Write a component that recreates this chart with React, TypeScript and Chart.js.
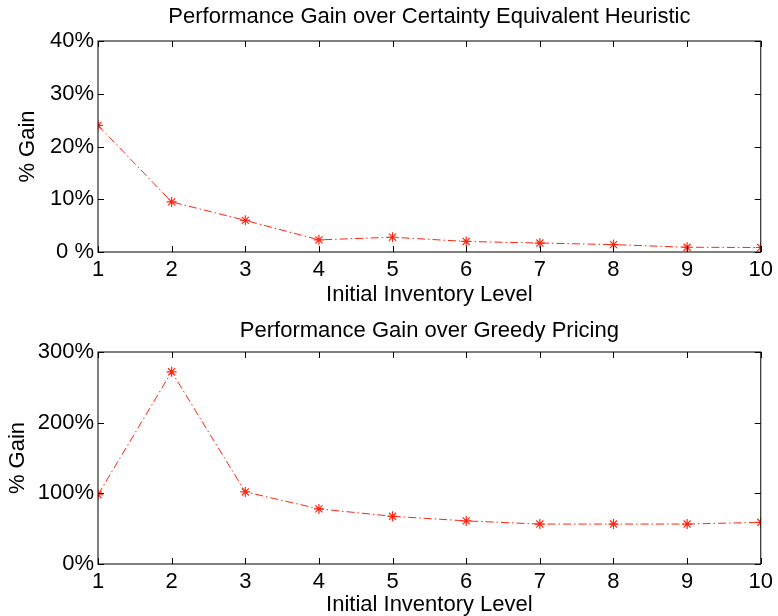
import React, { useEffect, useRef } from "react";
import { Chart, registerables } from "chart.js";

Chart.register(...registerables);

const inventoryLevels = [1, 2, 3, 4, 5, 6, 7, 8, 9, 10];
const gainVsCertainty = [24.0, 9.5, 6.0, 2.3, 2.8, 2.0, 1.7, 1.4, 0.9, 0.85];
const gainVsGreedy = [98, 272, 102, 78, 67.5, 61, 56.5, 56.5, 56.5, 59];
const topYTickLabels = ["0 %", "10%", "20%", "30%", "40%"];
const bottomYTickLabels = ["0%", "100%", "200%", "300%"];
const topTitle = "Performance Gain over Certainty Equivalent Heuristic";
const bottomTitle = "Performance Gain over Greedy Pricing";
const xAxisTitle = "Initial Inventory Level";
const yAxisTitle = "% Gain";

const FONT = "'Liberation Sans', Arial, Helvetica, sans-serif";
const RED = "rgb(255,38,18)";

const boxTicks = {
  id: "boxTicks",
  afterDraw(chart: any) {
    const { ctx, chartArea, scales } = chart;
    const { left, right, top, bottom } = chartArea;
    const x = scales.x;
    const y = scales.y;
    const L = 6;
    ctx.save();
    ctx.strokeStyle = "#000";
    ctx.lineWidth = 1;
    ctx.strokeRect(left, top, right - left, bottom - top);
    ctx.beginPath();
    x.ticks.forEach((t: any) => {
      const px = Math.round(x.getPixelForValue(t.value)) + 0.5;
      ctx.moveTo(px, bottom);
      ctx.lineTo(px, bottom - L);
      ctx.moveTo(px, top);
      ctx.lineTo(px, top + L);
    });
    y.ticks.forEach((t: any) => {
      const py = Math.round(y.getPixelForValue(t.value)) + 0.5;
      ctx.moveTo(left, py);
      ctx.lineTo(left + L, py);
      ctx.moveTo(right, py);
      ctx.lineTo(right - L, py);
    });
    ctx.stroke();
    ctx.restore();
  },
};

type PanelProps = {
  values: number[];
  yMax: number;
  yStep: number;
  yLabels: string[];
  title: string;
  titleHeight: number;
  titlePadTop: number;
  xAxisHeight: number;
  xTitlePadBottom: number;
  yTitlePadTop: number;
};

function Panel(props: PanelProps) {
  const ref = useRef<HTMLCanvasElement | null>(null);
  useEffect(() => {
    if (!ref.current) return;
    const chart = new Chart(ref.current, {
      type: "line",
      data: {
        datasets: [
          {
            data: inventoryLevels.map((x, i) => ({ x, y: props.values[i] })),
            xAxisID: "x",
            yAxisID: "y",
            borderColor: RED,
            backgroundColor: RED,
            borderWidth: 1,
            borderDash: [8, 3, 1.5, 3],
            pointStyle: "star",
            pointRadius: 5,
            pointBorderWidth: 1.2,
            pointBorderColor: RED,
            fill: false,
            tension: 0,
          },
        ],
      },
      options: {
        responsive: false,
        animation: false,
        events: [],
        layout: { padding: { left: 0, right: 14, top: 0, bottom: 0 } },
        plugins: {
          legend: { display: false },
          tooltip: { enabled: false },
          title: { display: false },
        },
        scales: {
          titleAxis: {
            type: "linear",
            position: "top",
            min: 1,
            max: 10,
            grid: { display: false, drawTicks: false },
            border: { display: false },
            ticks: { display: false },
            title: {
              display: true,
              text: props.title,
              color: "#000",
              font: { family: FONT, size: 22, lineHeight: 1.0 },
              padding: { top: props.titlePadTop, bottom: 0 },
            },
            afterFit(scale: any) {
              scale.height = props.titleHeight;
            },
          },
          x: {
            type: "linear",
            position: "bottom",
            min: 1,
            max: 10,
            grid: { display: false, drawTicks: false },
            border: { display: false },
            ticks: {
              stepSize: 1,
              color: "#000",
              padding: 5,
              maxRotation: 0,
              font: { family: FONT, size: 22 },
            },
            title: {
              display: true,
              text: xAxisTitle,
              color: "#000",
              font: { family: FONT, size: 22, lineHeight: 1.0 },
              padding: { top: 0, bottom: props.xTitlePadBottom },
            },
            afterFit(scale: any) {
              scale.height = props.xAxisHeight;
            },
          },
          y: {
            type: "linear",
            min: 0,
            max: props.yMax,
            grid: { display: false, drawTicks: false },
            border: { display: false },
            ticks: {
              stepSize: props.yStep,
              color: "#000",
              padding: 4,
              font: { family: FONT, size: 22 },
              callback: (v: any) => props.yLabels[Math.round(Number(v) / props.yStep)] ?? "",
            },
            title: {
              display: true,
              text: yAxisTitle,
              color: "#000",
              font: { family: FONT, size: 22, lineHeight: 1.0 },
              padding: { top: props.yTitlePadTop, bottom: 0 },
            },
            afterFit(scale: any) {
              scale.width = 98;
            },
          },
        },
      },
      plugins: [boxTicks],
    } as any);
    return () => chart.destroy();
  }, []);
  return <canvas ref={ref} width={778} height={308} style={{ display: "block", width: 778, height: 308 }} />;
}

export default function App() {
  return (
    <div style={{ position: "absolute", left: 0, top: 0, width: 778, height: 616, background: "#fff", overflow: "hidden" }}>
      <Panel
        values={gainVsCertainty}
        yMax={40}
        yStep={10}
        yLabels={topYTickLabels}
        title={topTitle}
        titleHeight={41}
        titlePadTop={6}
        xAxisHeight={56}
        xTitlePadBottom={2}
        yTitlePadTop={17}
      />
      <Panel
        values={gainVsGreedy}
        yMax={300}
        yStep={100}
        yLabels={bottomYTickLabels}
        title={bottomTitle}
        titleHeight={44}
        titlePadTop={12}
        xAxisHeight={52}
        xTitlePadBottom={0}
        yTitlePadTop={7}
      />
    </div>
  );
}
